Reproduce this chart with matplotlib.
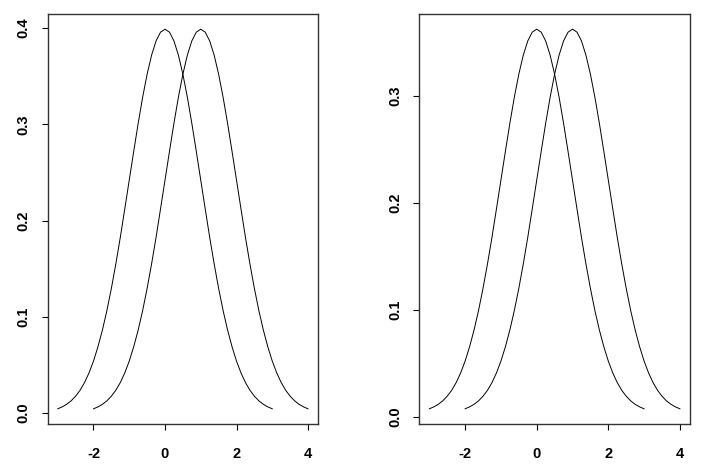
import matplotlib
matplotlib.use('Agg')
import matplotlib.pyplot as plt

# x grids for the two curves in each panel (step 0.125)
x_a = [-3.0, -2.875, -2.75, -2.625, -2.5, -2.375, -2.25, -2.125, -2.0, -1.875, -1.75, -1.625,
       -1.5, -1.375, -1.25, -1.125, -1.0, -0.875, -0.75, -0.625, -0.5, -0.375, -0.25, -0.125,
       0.0, 0.125, 0.25, 0.375, 0.5, 0.625, 0.75, 0.875, 1.0, 1.125, 1.25, 1.375,
       1.5, 1.625, 1.75, 1.875, 2.0, 2.125, 2.25, 2.375, 2.5, 2.625, 2.75, 2.875, 3.0]
x_b = [-2.0, -1.875, -1.75, -1.625, -1.5, -1.375, -1.25, -1.125, -1.0, -0.875, -0.75, -0.625,
       -0.5, -0.375, -0.25, -0.125, 0.0, 0.125, 0.25, 0.375, 0.5, 0.625, 0.75, 0.875,
       1.0, 1.125, 1.25, 1.375, 1.5, 1.625, 1.75, 1.875, 2.0, 2.125, 2.25, 2.375,
       2.5, 2.625, 2.75, 2.875, 3.0, 3.125, 3.25, 3.375, 3.5, 3.625, 3.75, 3.875, 4.0]

# left panel density values
left_y = [0.0044, 0.0064, 0.0091, 0.0127, 0.0175, 0.0237, 0.0317, 0.0417, 0.0540, 0.0689,
          0.0863, 0.1065, 0.1295, 0.1550, 0.1826, 0.2121, 0.2420, 0.2719, 0.3011, 0.3282,
          0.3521, 0.3719, 0.3867, 0.3958, 0.3989, 0.3958, 0.3867, 0.3719, 0.3521, 0.3282,
          0.3011, 0.2719, 0.2420, 0.2121, 0.1826, 0.1550, 0.1295, 0.1065, 0.0863, 0.0689,
          0.0540, 0.0417, 0.0317, 0.0237, 0.0175, 0.0127, 0.0091, 0.0064, 0.0044]
# right panel density values
right_y = [0.0072, 0.0090, 0.0114, 0.0146, 0.0190, 0.0245, 0.0317, 0.0407, 0.0518, 0.0652,
           0.0809, 0.0991, 0.1198, 0.1427, 0.1675, 0.1941, 0.2210, 0.2479, 0.2742, 0.2986,
           0.3201, 0.3379, 0.3512, 0.3594, 0.3622, 0.3594, 0.3512, 0.3379, 0.3201, 0.2986,
           0.2742, 0.2479, 0.2210, 0.1941, 0.1675, 0.1427, 0.1198, 0.0991, 0.0809, 0.0652,
           0.0518, 0.0407, 0.0317, 0.0245, 0.0190, 0.0146, 0.0114, 0.0090, 0.0072]

x_ticks = [-2, 0, 2, 4]
left_ticks = [0.0, 0.1, 0.2, 0.3, 0.4]
right_ticks = [0.0, 0.1, 0.2, 0.3]

plt.rcParams['font.family'] = ['Liberation Sans', 'DejaVu Sans']

fig = plt.figure(figsize=(7.08, 4.71), dpi=100)
ax1 = fig.add_axes([0.0674, 0.0998, 0.3818, 0.8705])
ax2 = fig.add_axes([0.5922, 0.0998, 0.3823, 0.8705])

for ax, y, yt in [(ax1, left_y, left_ticks), (ax2, right_y, right_ticks)]:
    ax.plot(x_a, y, color='black', lw=0.7)
    ax.plot(x_b, y, color='black', lw=0.7)
    lo, hi = min(y), max(y)
    pad = (hi - lo) * 0.04
    ax.set_ylim(lo - pad, hi + pad)
    ax.set_xlim(-3 - 0.28, 4 + 0.28)
    ax.set_xticks(x_ticks)
    ax.set_xticklabels([str(t) for t in x_ticks], fontsize=10.5, fontweight='bold')
    ax.set_yticks(yt)
    ax.set_yticklabels(['%.1f' % t for t in yt], fontsize=10.5, fontweight='bold',
                       rotation=90, va='center')
    ax.tick_params(axis='x', direction='out', length=4.3, width=0.8, pad=12)
    ax.tick_params(axis='y', direction='out', length=4.3, width=0.8, pad=8)
    for s in ax.spines.values():
        s.set_linewidth(1.0)
        s.set_color('#333333')

fig.savefig('out.png', dpi=100)
